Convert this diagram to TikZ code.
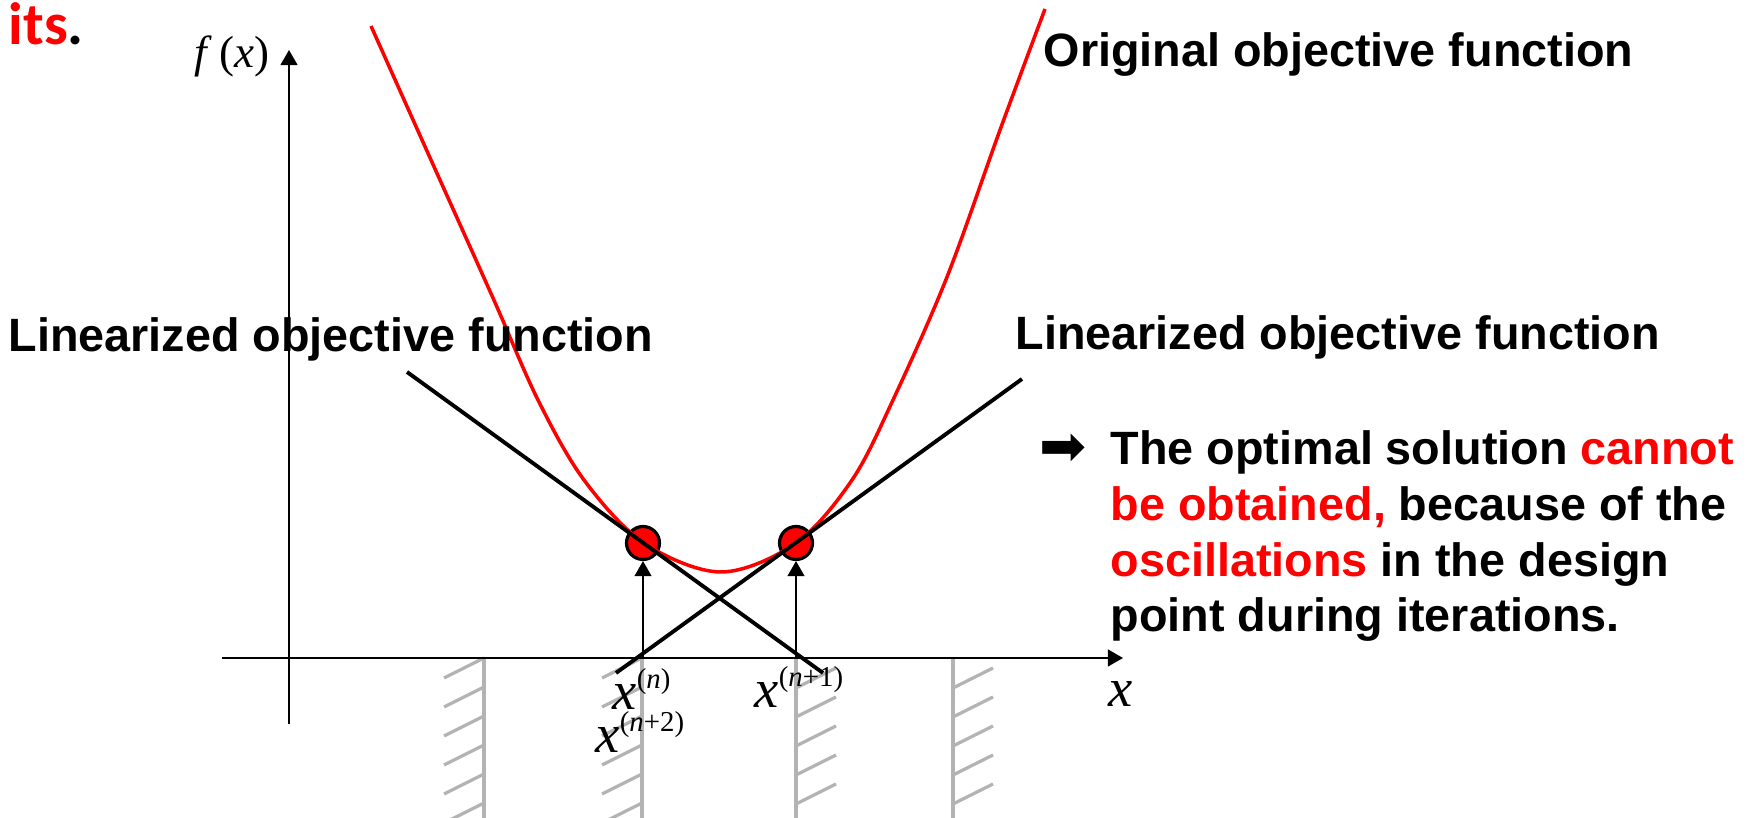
\documentclass[tikz,border=0pt]{standalone}
\usepackage{fontspec}
\setmainfont{Liberation Sans}
\newfontfamily\tnrfont{Liberation Serif}
\newfontfamily\carfont{Carlito}
\newfontfamily\symfont{DejaVu Sans}
\usepackage{xcolor}
\usepackage{tikz}
\usetikzlibrary{arrows.meta,positioning}
\definecolor{objred}{HTML}{FF0000}
\definecolor{wallgray}{HTML}{B3B3B3}
\tikzset{
  axisline/.style={-{Triangle[length=4.3pt,width=4.8pt]}, line width=0.55pt, draw=black},
  uparrow/.style={-{Triangle[length=4.3pt,width=4.8pt]}, line width=0.5pt, draw=black},
  tangent/.style={line width=1.1pt, draw=black},
  objcurve/.style={line width=1pt, draw=objred},
  wall/.style={line width=0.9pt, draw=wallgray},
  design/.style={circle, draw=black, fill=objred, line width=0.9pt, minimum size=3.3mm, inner sep=0pt},
  textlabel/.style={font=\fontsize{13.3}{15.85}\selectfont\bfseries, inner sep=0pt, anchor=base west},
  mathlabel/.style={font=\tnrfont, inner sep=0pt, anchor=base west}
}
\newcommand{\iter}[1]{\fontsize{15.5}{18}\selectfont\textit{x}\raisebox{6pt}{\fontsize{8.2}{10}\selectfont(#1)}}

\begin{document}
\begin{tikzpicture}[x=1mm,y=1mm]
  \useasboundingbox (0,0) rectangle (175.9,81.8);
  % move limits
  \begin{scope}
    \clip (0,0) rectangle (175.9,81.8);
    \foreach \wx in {48.4,64.2} {
      \draw[wall] (\wx,16.0) -- (\wx,0);
      \foreach \hy in {16.0,13.1,10.2,7.3,4.4,1.5}
        \draw[wall] (\wx-4,\hy-2) -- (\wx,\hy);
    }
    \foreach \wx in {79.6,95.3} {
      \draw[wall] (\wx,16.0) -- (\wx,0);
      \foreach \hy in {13.0,10.1,7.2,4.3,1.4}
        \draw[wall] (\wx,\hy) -- (\wx+4,\hy+2);
    }
  \end{scope}
  % axes
  \coordinate (xstart) at (22.2,16.0);
  \coordinate (xend) at (112.3,16.0);
  \coordinate (ystart) at (28.9,9.4);
  \coordinate (yend) at (28.9,76.8);
  \draw[axisline] (xstart) -- (xend);
  \draw[axisline] (ystart) -- (yend);
  % design points
  \node[design] (pn) at (64.3,27.5) {};
  \node[design] (pn1) at (79.6,27.5) {};
  \coordinate (an) at (64.3,16.0);
  \coordinate (an1) at (79.6,16.0);
  \draw[uparrow] (an) -- (pn);
  \draw[uparrow] (an1) -- (pn1);
  % original objective
  \draw[objcurve] plot[smooth, tension=0.55] coordinates {(37.1,79.2) (43.1,65.8) (49.3,52.0) (53.8,41.8) (58.4,33.8) (64.4,27.5) (72.1,24.6) (79.6,27.5) (85.2,33.8) (89.3,41.8) (94.7,54.1) (100.0,68.8) (104.5,80.9)};
  % linearized objectives
  \coordinate (tla) at (40.7,44.6);
  \coordinate (tlb) at (82.3,14.5);
  \coordinate (tra) at (61.6,14.5);
  \coordinate (trb) at (102.2,43.9);
  \draw[tangent] (tla) -- (tlb);
  \draw[tangent] (tra) -- (trb);
  % labels
  \node[font=\carfont\fontsize{17}{20}\selectfont\bfseries, inner sep=0pt, anchor=base west] (tail) at (0.8,77.3) {\textcolor{objred}{its}.};
  \node[textlabel] (orig) at (104.3,75.1) {Original objective function};
  \node[textlabel] (linl) at (0.8,46.6) {Linearized objective function};
  \node[textlabel] (linr) at (101.5,46.8) {Linearized objective function};
  \node[font=\symfont\fontsize{16}{18}\selectfont, inner sep=0pt] (bullet) at (106.3,36.8) {➡};
  \node[textlabel, align=left] (note) at (111.0,18.6) {The optimal solution \textcolor{objred}{cannot}\\\textcolor{objred}{be obtained,} because of the\\\textcolor{objred}{oscillations} in the design\\point during iterations.};
  \node[mathlabel] (fx) at (19.4,75.0) {\fontsize{12.8}{15}\selectfont\textit{f}\,(\textit{x})};
  \node[mathlabel] (xax) at (110.8,11.1) {\fontsize{15.5}{18}\selectfont\textit{x}};
  \node[mathlabel] (xn) at (61.2,10.8) {\iter{\textit{n}}};
  \node[mathlabel] (xn2) at (59.5,6.5) {\iter{\textit{n}+2}};
  \node[mathlabel] (xn1) at (75.4,11.0) {\iter{\textit{n}+1}};
\end{tikzpicture}
\end{document}
